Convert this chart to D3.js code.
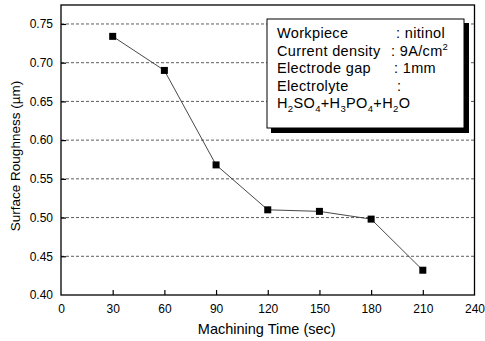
<!DOCTYPE html>
<html>
<head>
<meta charset="utf-8">
<script src="https://cdn.jsdelivr.net/npm/d3@7"></script>
<style>
  body { margin: 0; background: #fff; }
  svg { font-family: "Liberation Sans", Arial, sans-serif; }
</style>
</head>
<body>
<div id="chart"></div>
<script>
// machining time (sec) vs surface roughness (um)
const times = [30, 60, 90, 120, 150, 180, 210];
const roughness = [0.734, 0.690, 0.568, 0.510, 0.508, 0.498, 0.432];
const xTicks = [0, 30, 60, 90, 120, 150, 180, 210, 240];
const yTicks = [0.40, 0.45, 0.50, 0.55, 0.60, 0.65, 0.70, 0.75];
const legendLabels = ["Workpiece", "Current density", "Electrode gap", "Electrolyte"];
const legendValues = ["nitinol", "9A/cm", "1mm", ""];

const W = 485, H = 341;
const margin = { top: 5, right: 10.5, bottom: 46, left: 61 };
const width = W - margin.left - margin.right;
const height = H - margin.top - margin.bottom;

const svg = d3.select("#chart").append("svg")
    .attr("width", W)
    .attr("height", H);

const g = svg.append("g")
    .attr("transform", `translate(${margin.left},${margin.top})`);

const x = d3.scaleLinear().domain([0, 240]).range([0, width]);
const y = d3.scaleLinear().domain([0.40, 0.7745]).range([height, 0]);

// dashed grid
g.selectAll(".grid")
    .data(yTicks.filter(d => d > 0.40))
    .enter().append("line")
    .attr("x1", 0)
    .attr("x2", width)
    .attr("y1", d => y(d))
    .attr("y2", d => y(d))
    .attr("stroke", "#333")
    .attr("stroke-width", 0.8)
    .attr("stroke-dasharray", "3,2");

// axes with inward ticks
const xAxis = g.append("g")
    .attr("transform", `translate(0,${height})`)
    .call(d3.axisBottom(x).tickValues(xTicks).tickSizeInner(-5).tickSizeOuter(0).tickPadding(9));
const yAxis = g.append("g")
    .call(d3.axisLeft(y).tickValues(yTicks).tickFormat(d3.format(".2f")).tickSizeInner(-5).tickSizeOuter(0).tickPadding(8));

[xAxis, yAxis].forEach(a => {
    a.select(".domain").remove();
    a.selectAll("line").attr("stroke", "#000").attr("stroke-width", 1.2);
    a.selectAll("text").attr("font-size", "12px").attr("fill", "#000")
        .attr("font-family", "Liberation Sans, Arial, sans-serif");
});
xAxis.selectAll(".tick").filter(d => d === 0 || d === 240).select("line").remove();
yAxis.selectAll(".tick").filter(d => d === 0.40).select("line").remove();

// frame
g.append("rect")
    .attr("width", width)
    .attr("height", height)
    .attr("fill", "none")
    .attr("stroke", "#000")
    .attr("stroke-width", 1.3);

// line + markers
const line = d3.line()
    .x((d, i) => x(times[i]))
    .y(d => y(d));

g.append("path")
    .datum(roughness)
    .attr("d", line)
    .attr("fill", "none")
    .attr("stroke", "#333")
    .attr("stroke-width", 0.9);

g.selectAll(".pt")
    .data(roughness)
    .enter().append("rect")
    .attr("x", (d, i) => x(times[i]) - 3.5)
    .attr("y", d => y(d) - 3.5)
    .attr("width", 7)
    .attr("height", 7)
    .attr("fill", "#000");

// axis titles
svg.append("text")
    .attr("x", margin.left + width / 2 - 1)
    .attr("y", 334)
    .attr("text-anchor", "middle")
    .attr("font-size", "14.5px")
    .text("Machining Time (sec)");

svg.append("text")
    .attr("transform", `translate(20,${156}) rotate(-90)`)
    .attr("text-anchor", "middle")
    .attr("font-size", "13.5px")
    .text("Surface Roughness (\u00b5m)");

// legend box with shadow
const lg = svg.append("g");
lg.append("rect")
    .attr("x", 271).attr("y", 23)
    .attr("width", 198).attr("height", 110)
    .attr("fill", "#000");
lg.append("rect")
    .attr("x", 267).attr("y", 19)
    .attr("width", 197).attr("height", 109)
    .attr("fill", "#fff")
    .attr("stroke", "#000")
    .attr("stroke-width", 1);

const colonX = [396, 391, 394, 397];
const lineY = [38, 55.5, 73, 90.5];

legendLabels.forEach((lab, i) => {
    lg.append("text")
        .attr("x", 277).attr("y", lineY[i])
        .attr("font-size", "14.5px")
        .attr("letter-spacing", "0.35px")
        .text(lab);
    const t = lg.append("text")
        .attr("x", colonX[i]).attr("y", lineY[i])
        .attr("font-size", "14.5px")
        .attr("letter-spacing", "0.35px")
        .text(legendValues[i] ? ": " + legendValues[i] : ":");
    if (i === 1) {
        t.append("tspan").attr("dy", -6).attr("font-size", "9.5px").text("2");
    }
});

// electrolyte formula with subscripts
const f = lg.append("text")
    .attr("x", 277).attr("y", 108)
    .attr("font-size", "14.5px")
    .attr("letter-spacing", "0.35px");
const parts = [["H", false], ["2", true], ["SO", false], ["4", true], ["+H", false], ["3", true],
               ["PO", false], ["4", true], ["+H", false], ["2", true], ["O", false]];
let sub = false;
parts.forEach(([s, isSub]) => {
    const ts = f.append("tspan").text(s);
    if (isSub && !sub) ts.attr("dy", 4).attr("font-size", "9.5px");
    if (!isSub && sub) ts.attr("dy", -4);
    sub = isSub;
});
</script>
</body>
</html>
